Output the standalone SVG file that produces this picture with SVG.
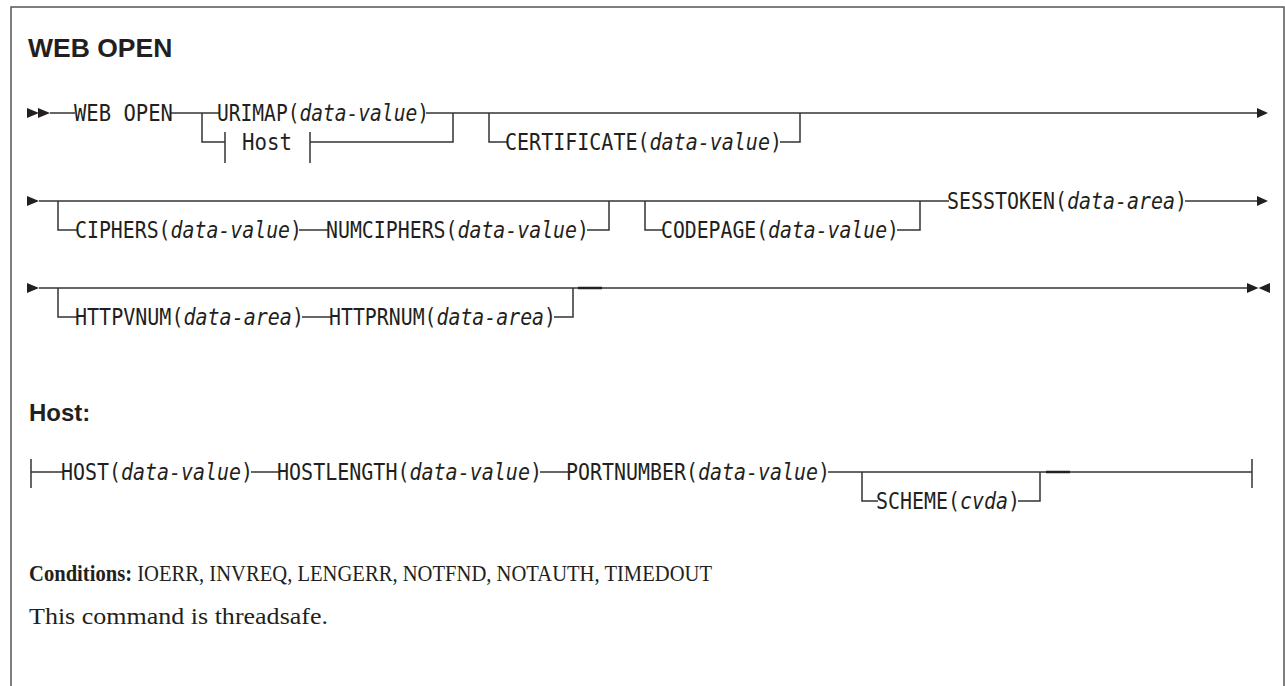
<svg xmlns="http://www.w3.org/2000/svg" width="1285" height="686" viewBox="0 0 1285 686">
<style>
.ln{stroke:#333;stroke-width:1.5;fill:none}
.thk{stroke:#222;stroke-width:2.5;fill:none}
.frame{stroke:#555;stroke-width:1.5;fill:none}
.ah{fill:#231f20}
.mono{font-family:"DejaVu Sans Mono",monospace;font-size:23px;fill:#231f20}
.it{font-style:italic}
.hd{font-family:"Liberation Sans",Arial,sans-serif;font-weight:bold;fill:#231f20}
.serif{font-family:"Liberation Serif","Times New Roman",serif;font-size:23px;fill:#231f20}
</style>
<rect x="0" y="0" width="1285" height="686" fill="#fff"/>
<path class="frame" d="M11,686 V7 H1284 V686"/>
<text class="hd" x="28" y="57" font-size="26.5">WEB OPEN</text>

<g id="connectors">
  <!-- row 1 -->
  <polygon class="ah" points="27,108 39,113 27,118"/>
  <polygon class="ah" points="38,108 50,113 38,118"/>
  <path class="ln" d="M50,113 H75"/>
  <path class="ln" d="M171,113 H219"/>
  <path class="ln" d="M202,113 V142 H225"/>
  <path class="ln" d="M225,132 V163"/>
  <path class="ln" d="M310,132 V163"/>
  <path class="ln" d="M310,142 H453 V113"/>
  <path class="ln" d="M426,113 H1258"/>
  <path class="ln" d="M489,113 V142 H507"/>
  <path class="ln" d="M780,142 H800 V113"/>
  <polygon class="ah" points="1257,108 1268,113 1257,118"/>
  <!-- row 2 -->
  <polygon class="ah" points="27,196 39,201 27,206"/>
  <path class="ln" d="M39,201 H949"/>
  <path class="ln" d="M58,201 V230 H77"/>
  <path class="ln" d="M299,230 H328"/>
  <path class="ln" d="M587,230 H609 V201"/>
  <path class="ln" d="M645,201 V230 H663"/>
  <path class="ln" d="M897,230 H920 V201"/>
  <path class="ln" d="M1185,201 H1258"/>
  <polygon class="ah" points="1257,196 1268,201 1257,206"/>
  <!-- row 3 -->
  <polygon class="ah" points="27,283 39,288 27,293"/>
  <path class="ln" d="M39,288 H1248"/>
  <path class="thk" d="M578,288 H602"/>
  <path class="ln" d="M58,288 V317 H77"/>
  <path class="ln" d="M302,317 H331"/>
  <path class="ln" d="M554,317 H573 V288"/>
  <polygon class="ah" points="1247,283 1258.5,288 1247,293"/>
  <polygon class="ah" points="1270,283 1258.5,288 1270,293"/>
  <!-- host fragment -->
  <path class="ln" d="M31,459 V488"/>
  <path class="ln" d="M31,472 H63"/>
  <path class="ln" d="M251,472 H279"/>
  <path class="ln" d="M540,472 H568"/>
  <path class="ln" d="M828,472 H1252"/>
  <path class="thk" d="M1046,472 H1070"/>
  <path class="ln" d="M862,472 V501 H878"/>
  <path class="ln" d="M1018,501 H1040 V472"/>
  <path class="ln" d="M1252,459 V488"/>
</g>

<g id="n-webopen"><text class="mono" x="74" y="121" textLength="99" lengthAdjust="spacingAndGlyphs">WEB OPEN</text></g>
<g id="n-urimap"><text class="mono" x="217" y="121" textLength="212" lengthAdjust="spacingAndGlyphs">URIMAP(<tspan class="it">data-value</tspan>)</text></g>
<g id="n-hostref"><text class="mono" x="242" y="150" textLength="50" lengthAdjust="spacingAndGlyphs">Host</text></g>
<g id="n-certificate"><text class="mono" x="505" y="150" textLength="277" lengthAdjust="spacingAndGlyphs">CERTIFICATE(<tspan class="it">data-value</tspan>)</text></g>

<g id="n-ciphers"><text class="mono" x="75" y="238" textLength="227" lengthAdjust="spacingAndGlyphs">CIPHERS(<tspan class="it">data-value</tspan>)</text></g>
<g id="n-numciphers"><text class="mono" x="326" y="238" textLength="263" lengthAdjust="spacingAndGlyphs">NUMCIPHERS(<tspan class="it">data-value</tspan>)</text></g>
<g id="n-codepage"><text class="mono" x="661" y="238" textLength="238" lengthAdjust="spacingAndGlyphs">CODEPAGE(<tspan class="it">data-value</tspan>)</text></g>
<g id="n-sesstoken"><text class="mono" x="947" y="209" textLength="240" lengthAdjust="spacingAndGlyphs">SESSTOKEN(<tspan class="it">data-area</tspan>)</text></g>

<g id="n-httpvnum"><text class="mono" x="75" y="325" textLength="229" lengthAdjust="spacingAndGlyphs">HTTPVNUM(<tspan class="it">data-area</tspan>)</text></g>
<g id="n-httprnum"><text class="mono" x="329" y="325" textLength="227" lengthAdjust="spacingAndGlyphs">HTTPRNUM(<tspan class="it">data-area</tspan>)</text></g>

<text class="hd" x="29" y="421" font-size="24">Host:</text>

<g id="n-host"><text class="mono" x="61" y="480" textLength="192" lengthAdjust="spacingAndGlyphs">HOST(<tspan class="it">data-value</tspan>)</text></g>
<g id="n-hostlength"><text class="mono" x="277" y="480" textLength="265" lengthAdjust="spacingAndGlyphs">HOSTLENGTH(<tspan class="it">data-value</tspan>)</text></g>
<g id="n-portnumber"><text class="mono" x="566" y="480" textLength="264" lengthAdjust="spacingAndGlyphs">PORTNUMBER(<tspan class="it">data-value</tspan>)</text></g>
<g id="n-scheme"><text class="mono" x="876" y="509" textLength="144" lengthAdjust="spacingAndGlyphs">SCHEME(<tspan class="it">cvda</tspan>)</text></g>

<text class="serif" x="29" y="581" textLength="683" lengthAdjust="spacingAndGlyphs"><tspan font-weight="bold">Conditions:</tspan> IOERR, INVREQ, LENGERR, NOTFND, NOTAUTH, TIMEDOUT</text>
<text class="serif" x="29" y="624" textLength="299" lengthAdjust="spacingAndGlyphs">This command is threadsafe.</text>
</svg>
